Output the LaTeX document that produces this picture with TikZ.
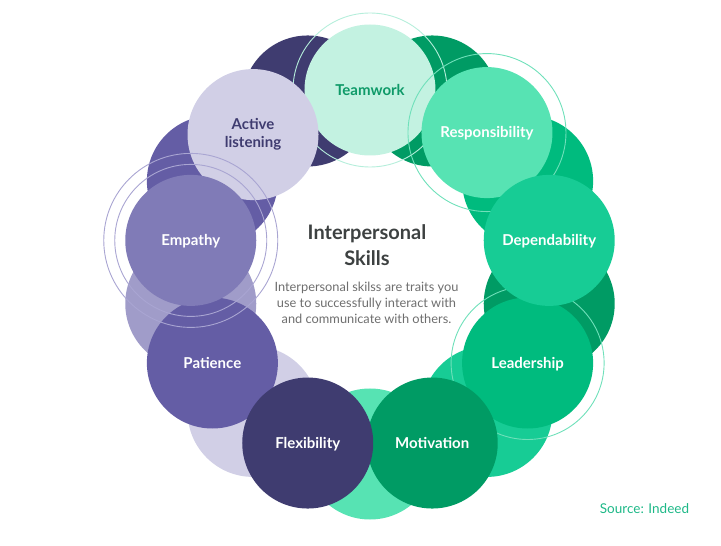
\documentclass[tikz,border=0pt]{standalone}
\usepackage{fontspec}
\setmainfont{Lato}
\definecolor{mintpale}{HTML}{C3F2E1}
\definecolor{mint}{HTML}{57E3B3}
\definecolor{greenlight}{HTML}{17CC95}
\definecolor{greenmid}{HTML}{00BB7E}
\definecolor{greendark}{HTML}{009B64}
\definecolor{navy}{HTML}{3F3C70}
\definecolor{purplemid}{HTML}{645DA5}
\definecolor{lavender}{HTML}{807BB7}
\definecolor{lavenderlight}{HTML}{A09CC9}
\definecolor{lavenderpale}{HTML}{D1CFE6}
\definecolor{titlegray}{HTML}{3D4141}
\definecolor{bodygray}{HTML}{6E6E6E}
\definecolor{teamgreen}{HTML}{0E9A68}
\definecolor{sourcegreen}{HTML}{1DB887}
\definecolor{mintring}{HTML}{B5EEDB}
\definecolor{greenring}{HTML}{6FE0BA}
\definecolor{purplering}{HTML}{A9A5D2}

\begin{document}
\begin{tikzpicture}[x=1pt,y=1pt,
  backdisc/.style={circle,minimum size=131pt,inner sep=0pt},
  skillbase/.style={circle,minimum size=131pt,inner sep=0pt,text=white,align=center,
    font=\fontsize{15}{18}\selectfont\bfseries},
  skill/.style={skillbase,text height=10.8pt,text depth=0pt},
  halo/.style={line width=0.9pt}]
 \useasboundingbox (-370,-274) rectangle (351,272);
 % circles behind the ring
 \foreach \a/\c [count=\i] in {70/greendark,30/greenmid,-10/greendark,-50/greenlight,
   -90/mint,-130/lavenderpale,-170/lavenderlight,150/purplemid,110/navy}
   \node[backdisc,fill=\c] (back\i) at (\a:182) {};
 % skills, lowest layer first
 \node[skill,fill=mintpale,text=teamgreen] (teamwork) at (90:182) {Teamwork};
 \draw[halo,draw=mintring] (teamwork.center) circle (77);
 \node[skill,fill=mint] (responsibility) at (50:182) {Responsibility};
 \draw[halo,draw=greenring] (responsibility.center) circle (79);
 \node[skill,fill=greenmid] (leadership) at (-30:182) {Leadership};
 \draw[halo,draw=greenring] (leadership.center) circle (76.5);
 \node[skill,fill=greenlight] (dependability) at (10:182) {Dependability};
 \node[skill,fill=greendark] (motivation) at (-70:182) {Motivation};
 \node[skill,fill=purplemid] (patience) at (-150:182) {Patience};
 \node[skill,fill=navy] (flexibility) at (-110:182) {Flexibility};
 \node[skillbase,fill=lavenderpale,text=navy,yshift=-2] (listening) at (130:182) {Active\\listening};
 \node[skill,fill=lavender] (empathy) at (170:182) {Empathy};
 \draw[halo,draw=purplering] (empathy.center) circle (76) (empathy.center) circle (87);
 % middle text
 \node[text=titlegray,align=center,font=\fontsize{20}{26}\selectfont\bfseries]
   (title) at (-3,27) {Interpersonal\\Skills};
 \node[text=bodygray,align=center,font=\fontsize{12.8}{16}\selectfont]
   (blurb) at (-3.5,-30.6) {Interpersonal skilss are traits you\\use to successfully interact with\\and communicate with others.};
 \node[text=sourcegreen,font=\fontsize{13.5}{15}\selectfont] (source) at (274.5,-237) {Source: Indeed};
\end{tikzpicture}
\end{document}
